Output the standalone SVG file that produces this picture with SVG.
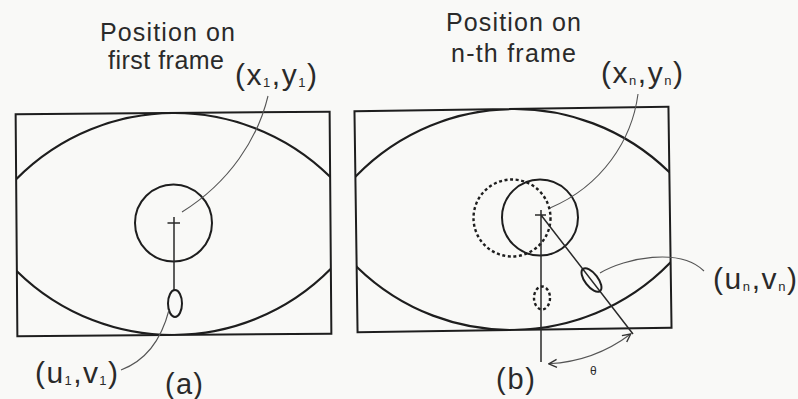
<svg xmlns="http://www.w3.org/2000/svg" width="798" height="399" viewBox="0 0 798 399">
<defs>
<style>
.frame{fill:none;stroke:#1e1e1e;stroke-width:2}
.arc{fill:none;stroke:#1e1e1e;stroke-width:2.2}
.obj{fill:none;stroke:#1e1e1e;stroke-width:2}
.dash{fill:none;stroke:#1e1e1e;stroke-width:2.4;stroke-dasharray:3 2.6}
.thin{fill:none;stroke:#2a2a2a;stroke-width:1.5}
.lead{fill:none;stroke:#555;stroke-width:1.1}
.lbl{font-family:"Liberation Sans",Arial,sans-serif;fill:#2a2a2a}
.sub{font-size:13px}
</style>
<clipPath id="clipA"><rect x="16.5" y="113" width="314" height="222"/></clipPath>
<clipPath id="clipB"><rect x="356" y="109" width="314" height="221"/></clipPath>
<marker id="arrow" viewBox="0 0 10 10" refX="9" refY="5" markerWidth="10" markerHeight="10" markerUnits="userSpaceOnUse" orient="auto-start-reverse">
<path d="M1,1 L9,5 L1,9" fill="none" stroke="#333" stroke-width="1.4"/>
</marker>
</defs>
<rect x="0" y="0" width="798" height="399" fill="#f9f9f7"/>

<g id="frame-a">
<g transform="rotate(-0.45 173.5 224)">
<rect class="frame" x="16.5" y="113" width="314" height="222"/>
<g clip-path="url(#clipA)">
<circle class="arc" cx="173.5" cy="335" r="222"/>
<circle class="arc" cx="173.5" cy="113" r="222"/>
</g>
</g>
<circle class="obj" cx="173.5" cy="223" r="38.5"/>
<path class="thin" d="M167.5,223 H180 M174,217 V290"/>
<ellipse class="obj" cx="175" cy="303.5" rx="7" ry="13.5"/>
</g>

<g id="frame-b">
<g transform="rotate(-0.8 513 219.5)">
<rect class="frame" x="356" y="109" width="314" height="221"/>
<g clip-path="url(#clipB)">
<circle class="arc" cx="513" cy="330" r="221"/>
<circle class="arc" cx="513" cy="109" r="221"/>
</g>
</g>
<circle class="dash" cx="512" cy="218" r="38.5"/>
<circle class="obj" cx="540" cy="217.5" r="38"/>
<path class="thin" d="M535,215 H546 M541,210 V362 M541,215 L633,334"/>
<ellipse class="dash" cx="542" cy="298" rx="8" ry="11.5"/>
<ellipse class="obj" cx="591.5" cy="280" rx="6.5" ry="14" transform="rotate(-37.5 591.5 280)"/>
</g>

<g id="connectors">
<path class="lead" d="M268,96 C258,138 230,182 182,212"/>
<path class="lead" d="M121,370 C142,362 160,345 169,310"/>
<path class="lead" d="M638,94 C632,140 602,186 550,208"/>
<path class="lead" d="M600,273 C625,258 680,247 704,271"/>
<path class="lead" d="M548.8,363.8 A149,149 0 0 0 630.7,334" marker-start="url(#arrow)" marker-end="url(#arrow)"/>
</g>

<g id="labels">
<text class="lbl" x="100" y="41" font-size="25" textLength="135">Position on</text>
<text class="lbl" x="108" y="69" font-size="25" textLength="116">first frame</text>
<text class="lbl" x="235" y="85" font-size="30" textLength="82">(x<tspan class="sub" dy="2">1</tspan><tspan dy="-2">,y</tspan><tspan class="sub" dy="2">1</tspan><tspan dy="-2">)</tspan></text>
<text class="lbl" x="446" y="31" font-size="25" textLength="135">Position on</text>
<text class="lbl" x="451" y="62" font-size="25" textLength="125">n-th frame</text>
<text class="lbl" x="601" y="83" font-size="30" textLength="82">(x<tspan class="sub" dy="2">n</tspan><tspan dy="-2">,y</tspan><tspan class="sub" dy="2">n</tspan><tspan dy="-2">)</tspan></text>
<text class="lbl" x="713" y="289" font-size="30" textLength="84">(u<tspan class="sub" dy="2">n</tspan><tspan dy="-2">,v</tspan><tspan class="sub" dy="2">n</tspan><tspan dy="-2">)</tspan></text>
<text class="lbl" x="35" y="383" font-size="30" textLength="83">(u<tspan class="sub" dy="2">1</tspan><tspan dy="-2">,v</tspan><tspan class="sub" dy="2">1</tspan><tspan dy="-2">)</tspan></text>
<text class="lbl" x="165" y="394" font-size="29" textLength="38">(a)</text>
<text class="lbl" x="496" y="389" font-size="29" textLength="39">(b)</text>
<text class="lbl" x="590" y="375" font-size="12">θ</text>
</g>
</svg>
